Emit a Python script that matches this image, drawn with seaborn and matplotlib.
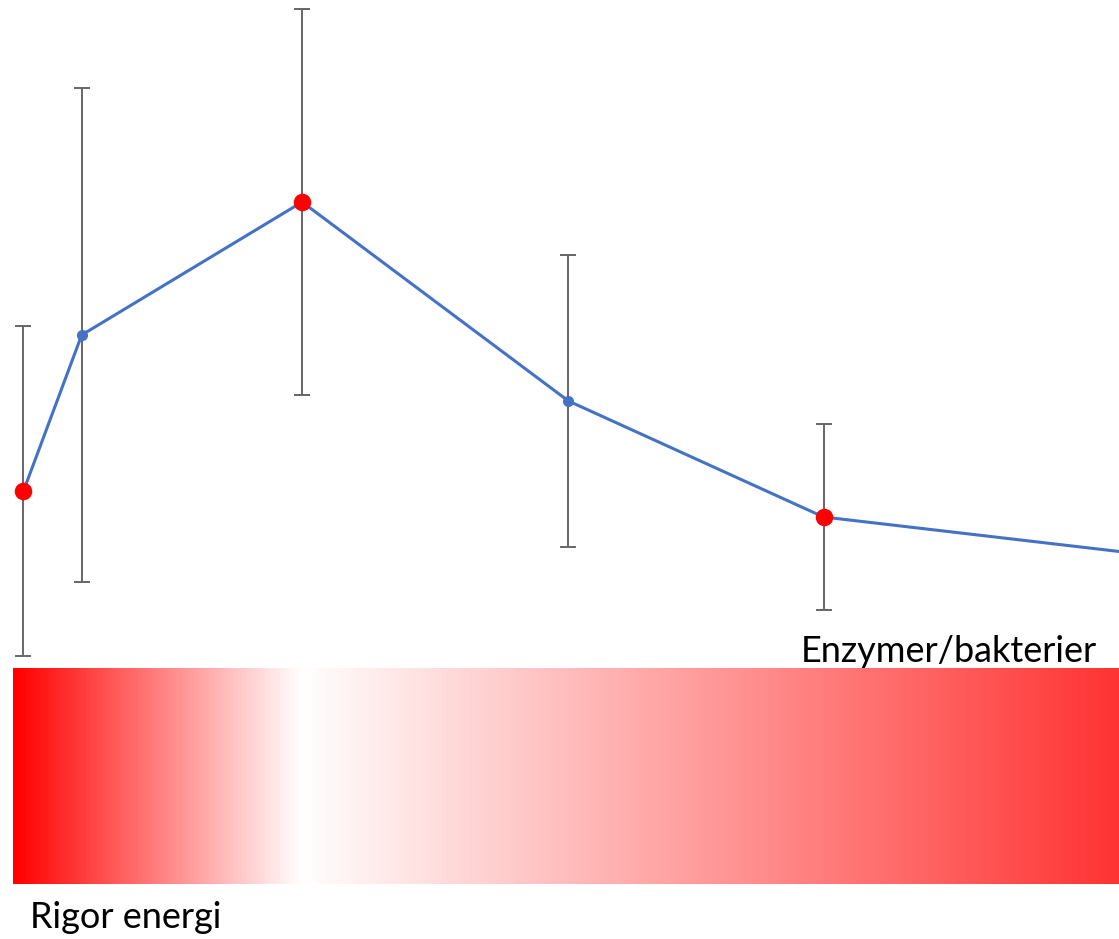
import numpy as np
import pandas as pd
import matplotlib.pyplot as plt
import seaborn as sns
from matplotlib.colors import LinearSegmentedColormap

# Data (arbitrary units)
time = [0.21, 0.73, 2.70, 5.08, 7.36, 10.5]
value = [4.48, 6.04, 7.37, 5.38, 4.22, 3.81]
err = [1.65, 2.47, 1.93, 1.46, 0.93, 0.0]
highlight = [True, False, True, False, True, False]

# Gradient stops for the bar below the curve
grad_pos = [0.0, 0.26, 1.0]
grad_col = ["#FF0000", "#FFFFFF", "#FF3333"]

df = pd.DataFrame({"time": time, "value": value, "err": err, "highlight": highlight})

sns.set_style("white")
plt.rcParams["font.family"] = ["Lato", "DejaVu Sans"]

fig = plt.figure(figsize=(11.19, 9.39), dpi=100)
ax = fig.add_axes([0, 0, 1, 1])

# error bars (no error bar on the last point)
eb = df[df["err"] > 0]
ax.errorbar(eb["time"], eb["value"], yerr=eb["err"], fmt="none",
            ecolor="#666666", elinewidth=1.4, capsize=6, capthick=1.4, zorder=1)

sns.lineplot(data=df, x="time", y="value", color="#4472C4", linewidth=2.2,
             marker="o", markersize=8, markeredgewidth=0, ax=ax, zorder=2)
sns.scatterplot(data=df[df["highlight"]], x="time", y="value", color="#FF0000",
                s=160, linewidth=0, ax=ax, zorder=3)

ax.set_xlim(0, 10)
ax.set_ylim(0, 9.39)
ax.axis("off")

# gradient bar
cmap = LinearSegmentedColormap.from_list("grad", list(zip(grad_pos, grad_col)))
gax = fig.add_axes([13 / 1119, 55 / 939, 1106 / 1119, 216 / 939])
gax.imshow(np.linspace(0, 1, 512)[None, :], aspect="auto", cmap=cmap)
gax.axis("off")

fig.text(1097 / 1119, 277 / 939, "Enzymer/bakterier", fontsize=26,
         ha="right", va="baseline", color="black")
fig.text(30 / 1119, 11 / 939, "Rigor energi", fontsize=26,
         ha="left", va="baseline", color="black")

fig.savefig("out.png", dpi=100)
